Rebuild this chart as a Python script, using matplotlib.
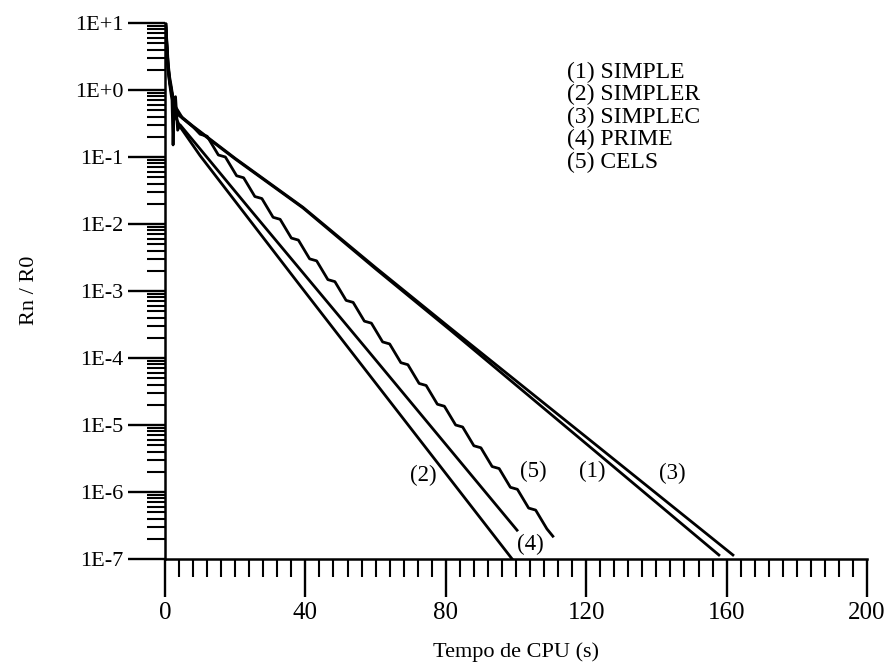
import matplotlib
matplotlib.use("Agg")
import matplotlib.pyplot as plt
from matplotlib.ticker import FixedLocator, FixedFormatter, LogLocator, MultipleLocator, NullFormatter
import numpy as np

plt.rcParams['font.family'] = ['Liberation Serif', 'DejaVu Serif']

# ---- data (x = CPU time in s, y given as log10(Rn/R0)) ----
simple_x = [0.2, 0.5, 0.9, 1.3, 1.8, 2.3, 3.0, 4.0, 8.0, 20.0, 39.3, 60.0, 81.2, 120.0, 157.8]
simple_log = [1.0, 0.7, 0.35, 0.15, 0.0, -0.15, -0.28, -0.38, -0.55, -1.03, -1.76, -2.67, -3.58, -5.28, -6.94]

simplec_x = [0.2, 0.5, 0.9, 1.3, 1.8, 2.5, 3.2, 4.0, 8.0, 20.0, 39.3, 60.0, 81.2, 120.0, 161.8]
simplec_log = [1.0, 0.75, 0.4, 0.2, 0.05, -0.2, -0.3, -0.37, -0.54, -1.02, -1.75, -2.65, -3.55, -5.18, -6.94]

simpler_x = [0.2, 0.5, 0.9, 1.3, 1.7, 2.0, 2.3, 2.6, 3.0, 4.3, 10.0, 38.5, 52.7, 98.9]
simpler_log = [1.0, 0.65, 0.3, 0.1, -0.05, -0.15, -0.82, -0.25, -0.40, -0.55, -0.98, -2.92, -3.88, -7.0]

prime_x = [0.2, 0.5, 0.9, 1.3, 1.8, 2.4, 3.0, 3.6, 4.3, 10.0, 24.2, 57.5, 100.3]
prime_log = [1.0, 0.6, 0.3, 0.12, -0.02, -0.2, -0.1, -0.6, -0.52, -0.88, -1.78, -3.87, -6.57]

cels_x = [0.2, 0.5, 0.9, 1.4, 2.0, 3.0, 5.0, 8.0, 10.0, 12.0, 15.2, 17.2, 20.4, 22.4, 25.6, 27.6,
          30.8, 32.8, 36.0, 38.0, 41.2, 43.2, 46.4, 48.4, 51.6, 53.6, 56.8, 58.8, 62.0, 64.0,
          67.2, 69.2, 72.4, 74.4, 77.6, 79.6, 82.8, 84.8, 88.0, 90.0, 93.2, 95.2, 98.4, 100.4,
          103.6, 105.6, 108.8, 110.5]
cels_log = [1.0, 0.7, 0.35, 0.12, -0.05, -0.25, -0.42, -0.55, -0.66, -0.69, -0.97, -1.00, -1.28, -1.31,
            -1.59, -1.62, -1.90, -1.93, -2.21, -2.24, -2.52, -2.55, -2.83, -2.86, -3.14, -3.17,
            -3.45, -3.48, -3.76, -3.79, -4.07, -4.10, -4.38, -4.41, -4.69, -4.72, -5.00, -5.03,
            -5.31, -5.34, -5.62, -5.65, -5.93, -5.96, -6.24, -6.27, -6.55, -6.66]

legend_lines = ["(1) SIMPLE", "(2) SIMPLER", "(3) SIMPLEC", "(4) PRIME", "(5) CELS"]

curve_labels = ["(2)", "(5)", "(1)", "(3)", "(4)"]
curve_label_x = [73.5, 104.8, 121.7, 144.5, 104.0]
curve_label_log = [-5.75, -5.70, -5.70, -5.72, -6.79]

ytick_exps = [-7, -6, -5, -4, -3, -2, -1, 0, 1]
ytick_labels = ["1E-7", "1E-6", "1E-5", "1E-4", "1E-3", "1E-2", "1E-1", "1E+0", "1E+1"]
xticks = [0, 40, 80, 120, 160, 200]

# ---- figure ----
W, H = 891, 669
fig = plt.figure(figsize=(W / 100, H / 100), dpi=100)
ax = fig.add_axes([165 / W, 1 - 559 / H, 702 / W, 536 / H])

series = [(simple_x, simple_log), (simplec_x, simplec_log), (simpler_x, simpler_log),
          (prime_x, prime_log), (cels_x, cels_log)]
for xs, ls in series:
    ax.plot(xs, 10.0 ** np.array(ls), color='black', lw=2.0, solid_joinstyle='round')

ax.set_yscale('log')
ax.set_xlim(0, 200)
ax.set_ylim(1e-7, 10)

ax.yaxis.set_major_locator(FixedLocator([10.0 ** e for e in ytick_exps]))
ax.yaxis.set_major_formatter(FixedFormatter(ytick_labels))
ax.yaxis.set_minor_locator(LogLocator(base=10, subs=np.arange(2, 10), numticks=20))
ax.yaxis.set_minor_formatter(NullFormatter())
ax.xaxis.set_major_locator(FixedLocator(xticks))
ax.xaxis.set_minor_locator(MultipleLocator(4))

for s in ['top', 'right']:
    ax.spines[s].set_visible(False)
for s in ['left', 'bottom']:
    ax.spines[s].set_linewidth(1.8)

ax.tick_params(axis='both', which='major', direction='out', length=27, width=1.7, pad=3)
ax.tick_params(axis='y', which='major', labelsize=16)
ax.tick_params(axis='x', which='major', labelsize=18, pad=4)
ax.tick_params(axis='both', which='minor', direction='out', length=13, width=1.5)

fig.text(516 / W, 1 - 652 / H, "Tempo de CPU (s)", fontsize=16, ha='center', va='center')
fig.text(30 / W, 1 - 290 / H, "Rn / R0", fontsize=16, ha='center', va='center', rotation=90)

for i, t in enumerate(legend_lines):
    fig.text(567 / W, 1 - (72 + i * 22.5) / H, t, fontsize=17, va='center', ha='left')

for t, x, l in zip(curve_labels, curve_label_x, curve_label_log):
    ax.text(x, 10.0 ** l, t, fontsize=16.5, ha='center', va='center')

fig.savefig("out.png", dpi=100)
